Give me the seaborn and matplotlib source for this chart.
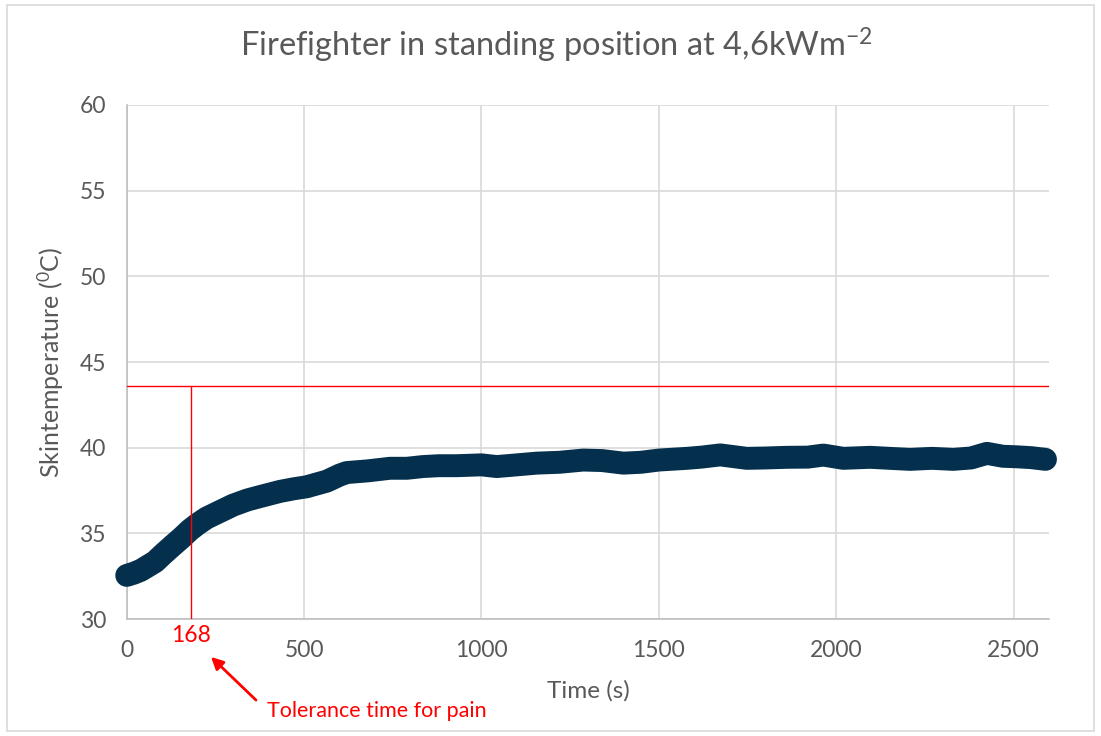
import matplotlib
matplotlib.use("Agg")
import matplotlib.pyplot as plt
import seaborn as sns
import pandas as pd
from matplotlib.patches import Rectangle, FancyArrowPatch

# ---- data ----
time_s = [0, 20, 40, 56, 80, 103, 130, 155, 178, 200, 225, 260, 300, 340, 376,
          432, 470, 507, 564, 600, 620, 680, 742, 790, 835, 880, 930, 1000, 1043,
          1100, 1156, 1220, 1287, 1340, 1400, 1450, 1500, 1579, 1620, 1673, 1748,
          1800, 1861, 1920, 1964, 2020, 2096, 2150, 2208, 2270, 2330, 2380, 2425,
          2470, 2509, 2550, 2590]
skin_temp = [32.55, 32.68, 32.85, 33.05, 33.35, 33.8, 34.3, 34.75, 35.2, 35.55, 35.9,
             36.25, 36.65, 36.95, 37.15, 37.45, 37.6, 37.72, 38.05, 38.4, 38.55, 38.65,
             38.8, 38.8, 38.9, 38.95, 38.95, 39.0, 38.9, 39.0, 39.1, 39.15, 39.28, 39.25,
             39.1, 39.15, 39.28, 39.38, 39.45, 39.58, 39.38, 39.4, 39.44, 39.45, 39.57,
             39.38, 39.44, 39.38, 39.32, 39.38, 39.32, 39.4, 39.67, 39.5, 39.47, 39.42,
             39.32]
pain_threshold = 43.62
tolerance_line_x = 180
tolerance_label = "168"
x_ticks = [0, 500, 1000, 1500, 2000, 2500]
y_ticks = [30, 35, 40, 45, 50, 55, 60]

df = pd.DataFrame({"Time (s)": time_s, "Temp": skin_temp})

sns.set_theme(style="white")
plt.rcParams["font.family"] = ["Lato", "DejaVu Sans"]
plt.rcParams["mathtext.fontset"] = "custom"
plt.rcParams["mathtext.rm"] = "Lato"

fig = plt.figure(figsize=(11.01, 7.36), dpi=100)
ax = fig.add_axes([0.1151, 0.1588, 0.9528 - 0.1151, 0.8575 - 0.1588])

# chart border
fig.patches.append(Rectangle((7 / 1101, 5 / 736), (1094 - 7) / 1101, (731 - 5) / 736,
                             transform=fig.transFigure, fill=False,
                             edgecolor="#d9d9d9", linewidth=1.2))

sns.lineplot(data=df, x="Time (s)", y="Temp", ax=ax, color="#04304D",
             linewidth=16.5, solid_capstyle="round", solid_joinstyle="round",
             clip_on=False, zorder=3)

ax.set_xlim(0, 2600)
ax.set_ylim(30, 60)
ax.set_xticks(x_ticks)
ax.set_yticks(y_ticks)
ax.grid(True, color="#d9d9d9", linewidth=1.2)
ax.set_axisbelow(True)
for s in ["top", "right"]:
    ax.spines[s].set_visible(False)
for s in ["left", "bottom"]:
    ax.spines[s].set_color("#bfbfbf")
    ax.spines[s].set_linewidth(1.2)
ax.tick_params(axis="both", length=0, labelsize=16.5, labelcolor="#595959")
ax.tick_params(axis="x", pad=15)
ax.tick_params(axis="y", pad=15)

ax.set_xlabel("Time (s)", fontsize=17.5, color="#595959", labelpad=14)
ax.set_ylabel(r"Skintemperature ($\mathregular{^{0}}$C)", fontsize=18,
              color="#595959", labelpad=10)

# red reference lines
ax.axhline(pain_threshold, color="#ff0000", linewidth=1, zorder=4)
ax.plot([tolerance_line_x, tolerance_line_x], [30, pain_threshold], color="#ff0000",
        linewidth=1, zorder=4)

fig.text(191 / 1101, 1 - 636 / 736, tolerance_label, color="#ff0000", fontsize=16.5,
         ha="center", va="center")
fig.text(267 / 1101, 1 - 711 / 736, "Tolerance time for pain", color="#ff0000",
         fontsize=15.5, ha="left", va="center")
fig.patches.append(FancyArrowPatch((258 / 1101, 1 - 702 / 736), (209 / 1101, 1 - 655 / 736),
                                   transform=fig.transFigure, arrowstyle="-|>",
                                   mutation_scale=18, color="#ff0000", linewidth=2))

fig.text(0.505, 1 - 45 / 736, r"Firefighter in standing position at 4,6kWm$\mathregular{^{-2}}$",
         ha="center", va="center", fontsize=23.5, color="#595959")

fig.savefig("out.png", dpi=100)
